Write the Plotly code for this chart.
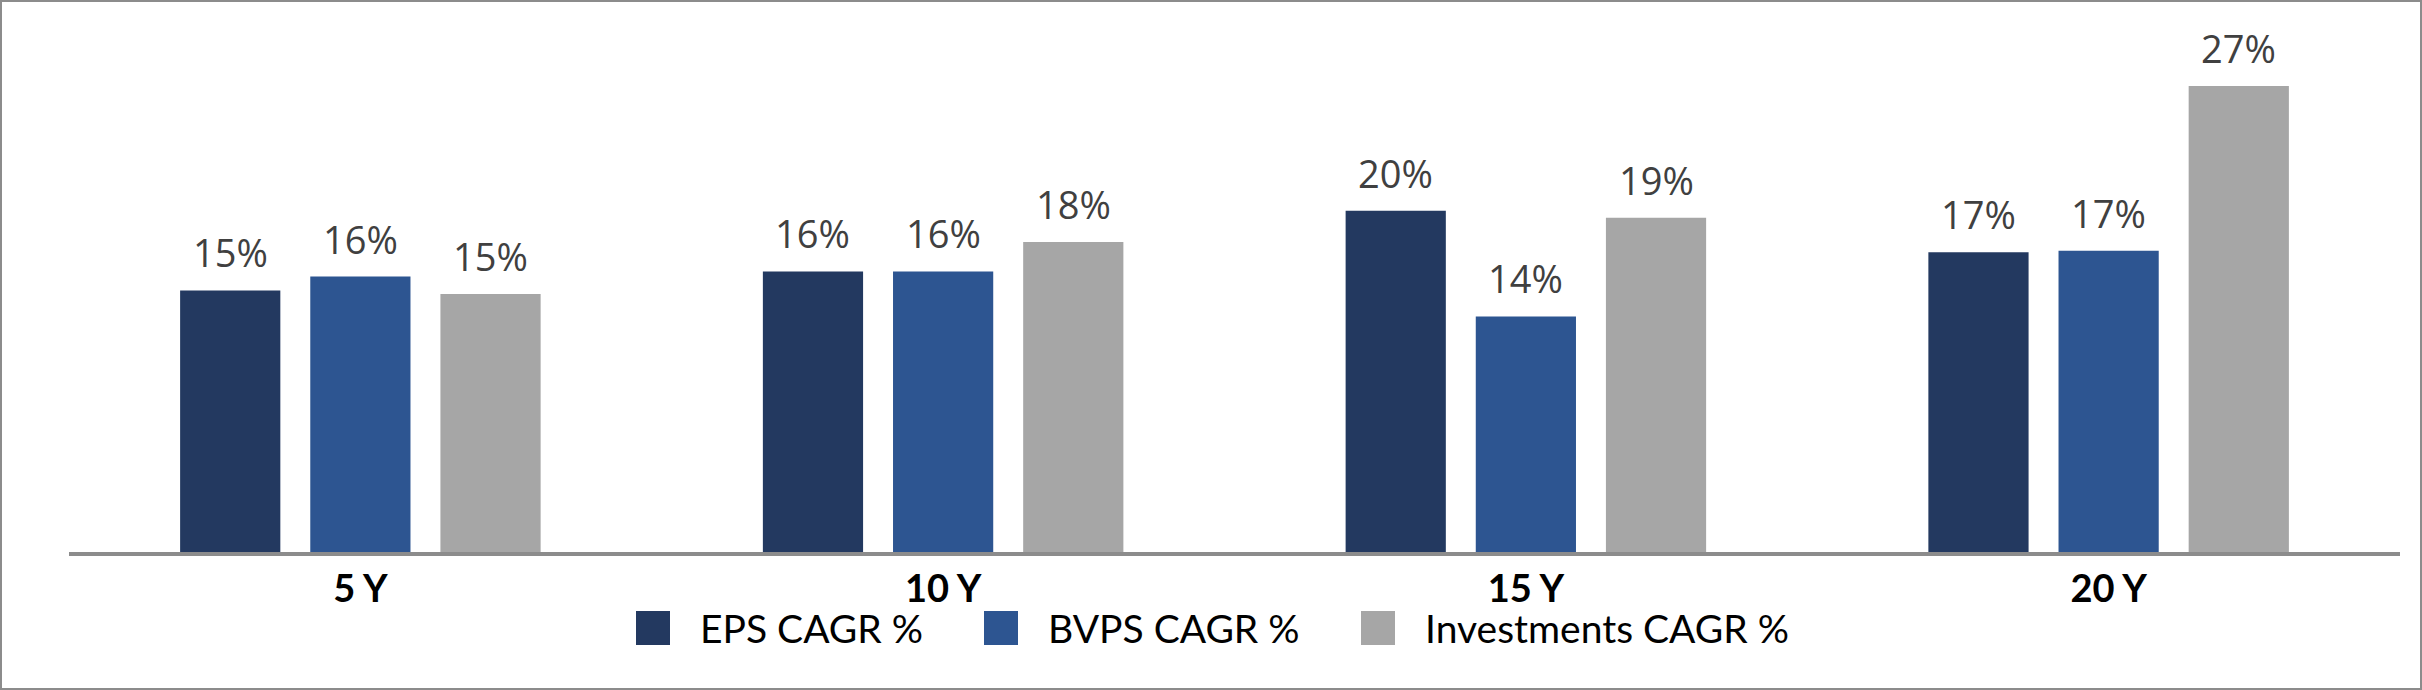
import plotly.graph_objects as go

# chart values (CAGR %)
periods = ["5 Y", "10 Y", "15 Y", "20 Y"]
series_names = ["EPS CAGR %", "BVPS CAGR %", "Investments CAGR %"]
eps_cagr = [15.1, 16.2, 19.7, 17.3]
bvps_cagr = [15.9, 16.2, 13.6, 17.4]
investments_cagr = [14.9, 17.9, 19.3, 26.9]

colors = ["#233960", "#2d5591", "#a6a6a6"]

W, H = 2422, 690
M_L, M_R, M_T, M_B = 69, 22, 20, 138
PW = W - M_L - M_R
PH = H - M_T - M_B
PX_PER_PCT = 17.32
BARGAP = 0.33
SLOT = PW / len(periods) * (1 - BARGAP) / len(series_names)


# figure pixels -> paper coordinates
def px_x(x):
    return (x - M_L) / PW


def px_y(y):
    return (H - M_B - y) / PH


fig = go.Figure()

annotations = []
all_values = [eps_cagr, bvps_cagr, investments_cagr]
for i, (name, values, color) in enumerate(zip(series_names, all_values, colors)):
    fig.add_trace(go.Bar(
        x = periods,
        y = values,
        name = name,
        marker = dict(color = color, line = dict(width = 0)),
        showlegend = False,
    ))
    # value labels sit a little higher above the bars than plotly's own outside text
    for p, v in zip(periods, values):
        annotations.append(dict(
            x = p, y = v, xref = "x", yref = "y",
            xshift = (i - 1) * SLOT, yshift = 10,
            yanchor = "bottom", showarrow = False,
            text = f"{v:.0f}%",
            font = dict(family = "Open Sans", size = 38, color = "#404040"),
        ))

# legend drawn by hand so the swatches can be as large as in the original
legend_items = [(636, 698), (984, 1046), (1361, 1423)]
shapes = []
for (sx, tx), name, color in zip(legend_items, series_names, colors):
    shapes.append(dict(
        type = "rect", xref = "paper", yref = "paper",
        x0 = px_x(sx), x1 = px_x(sx + 34), y0 = px_y(645), y1 = px_y(611),
        fillcolor = color, line = dict(width = 0),
    ))
    annotations.append(dict(
        xref = "paper", yref = "paper", x = px_x(tx), y = px_y(628),
        xanchor = "left", yanchor = "middle", showarrow = False,
        text = name, font = dict(family = "Lato", size = 39, color = "#000000"),
    ))

# outer frame
shapes.append(dict(
    type = "rect", xref = "paper", yref = "paper",
    x0 = px_x(1), x1 = px_x(W - 1), y0 = px_y(H - 1), y1 = px_y(1),
    line = dict(color = "#8c8c8c", width = 2), fillcolor = "rgba(0,0,0,0)",
))

fig.update_layout(
    width = W,
    height = H,
    margin = dict(l = M_L, r = M_R, t = M_T, b = M_B),
    plot_bgcolor = "white",
    paper_bgcolor = "white",
    barmode = "group",
    bargap = BARGAP,
    bargroupgap = 0.23,
    shapes = shapes,
    annotations = annotations,
    showlegend = False,
)

fig.update_xaxes(
    showline = True,
    linecolor = "#8c8c8c",
    linewidth = 4,
    showgrid = False,
    ticks = "",
    tickfont = dict(family = "Lato", size = 38, color = "#000000", weight = "bold"),
)
fig.update_yaxes(
    visible = False,
    range = [0, PH / PX_PER_PCT],
)

# drop the browser's default body margin so the figure fills the window exactly
fig.write_html(
    "out.html",
    config = {"displayModeBar": False},
    post_script = "document.body.style.margin = '0';",
)
